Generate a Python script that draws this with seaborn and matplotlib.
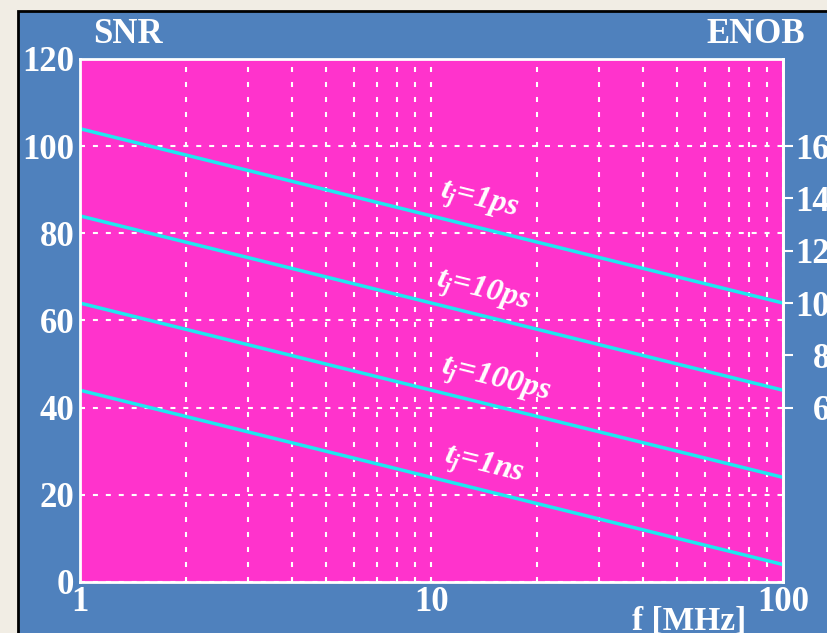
import matplotlib.pyplot as plt
import matplotlib as mpl
from matplotlib.patches import Rectangle
from matplotlib.ticker import NullFormatter
import numpy as np
import pandas as pd
import seaborn as sns

# values (f in MHz, SNR in dB)
freq = [1, 10, 100]
snr_1ps = [104, 84, 64]
snr_10ps = [84, 64, 44]
snr_100ps = [64, 44, 24]
snr_1ns = [44, 24, 4]
jitter_names = ["1ps", "10ps", "100ps", "1ns"]
label_f = [13.6, 14.0, 15.2, 14.1]
label_snr = [87.5, 66.5, 46.2, 26.5]
enob_ticks = [6, 8, 10, 12, 14, 16]

blue = "#4f81bd"
pink = "#ff33cc"
cyan = "#1ee8f0"

sns.set_style("white")
plt.rcParams["font.family"] = ["Liberation Serif", "DejaVu Serif"]
plt.rcParams["font.weight"] = "bold"
plt.rcParams["mathtext.fontset"] = "custom"
plt.rcParams["mathtext.it"] = "Liberation Serif:italic:bold"
plt.rcParams["mathtext.rm"] = "Liberation Serif:bold"

rows = []
for name, vals in zip(jitter_names, [snr_1ps, snr_10ps, snr_100ps, snr_1ns]):
    for f, s in zip(freq, vals):
        rows.append({"f": f, "snr": s, "jitter": name})
df = pd.DataFrame(rows)

fig = plt.figure(figsize=(8.27, 6.33), dpi=100, facecolor="#f1ede4")
fig.patches.append(Rectangle((0.0218, -0.05), 1.1, 1.0326, transform=fig.transFigure,
                             facecolor=blue, edgecolor="black", lw=2, zorder=-5))

ax = fig.add_axes([0.0967, 0.0806, 0.8501, 0.8262])
ax.set_facecolor(pink)

sns.lineplot(data=df, x="f", y="snr", hue="jitter", palette=[cyan] * 4,
             lw=2.5, legend=False, ax=ax, sort=True)

ax.set_xscale("log")
ax.set_xlim(1, 100)
ax.set_ylim(0, 120)
ax.set_xticks([1, 10, 100])
ax.set_xticklabels(["1", "10", "100"])
ax.xaxis.set_minor_formatter(NullFormatter())
ax.set_yticks([0, 20, 40, 60, 80, 100, 120])
ax.set_xlabel("")
ax.set_ylabel("")

ax.grid(which="both", axis="x", color="white", ls=(0, (2.4, 4.8)), lw=1.5)
ax.grid(which="major", axis="y", color="white", ls=(0, (2.4, 3.8)), lw=1.5)

ax.tick_params(axis="both", which="both", length=0, colors="white", labelsize=25)
ax.tick_params(axis="y", pad=4)
ax.tick_params(axis="x", pad=3)
for sp in ax.spines.values():
    sp.set_color("white")
    sp.set_linewidth(2)

# ENOB scale on the right
sec = ax.secondary_yaxis("right", functions=(lambda s: (s - 4) / 6, lambda n: n * 6 + 4))
sec.set_yticks(enob_ticks)
sec.tick_params(colors="white", length=7, width=1.5, labelsize=25, pad=27)
sec.spines["right"].set_color("white")
sec.spines["right"].set_linewidth(2)
for t in sec.get_yticklabels():
    t.set_horizontalalignment("right")

for name, fx, sy in zip(jitter_names, label_f, label_snr):
    ax.text(fx, sy, r"$t_j$=" + name, rotation=-14, rotation_mode="anchor",
            ha="center", va="center", color="white", fontsize=23,
            style="italic", weight="bold")

fig.text(93 / 827, (633 - 43) / 633, "SNR", color="white", fontsize=25,
         weight="bold", ha="left", va="baseline")
fig.text(805 / 827, (633 - 43) / 633, "ENOB", color="white", fontsize=25,
         weight="bold", ha="right", va="baseline")
fig.text(632 / 827, 3 / 633, "f [MHz]", color="white", fontsize=24,
         weight="bold", ha="left", va="baseline")

fig.savefig("out.png", dpi=100, facecolor=fig.get_facecolor())
